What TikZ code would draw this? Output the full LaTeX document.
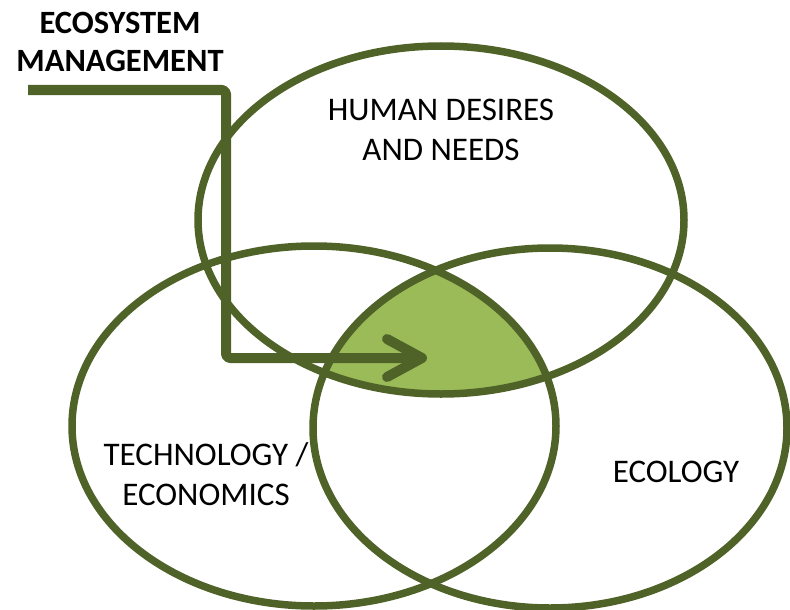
\documentclass[tikz,border=0pt]{standalone}
\usepackage{fontspec}
\setmainfont{Carlito}
\usetikzlibrary{shapes.geometric}
\definecolor{olive}{HTML}{4F6228}
\definecolor{leaf}{HTML}{9BBB59}
\begin{document}
\begin{tikzpicture}[x=1pt,y=-1pt,
  ring/.style={draw=olive,line width=7.5pt,ellipse,inner sep=0pt,outer sep=0pt},
  lbl/.style={align=center,font=\fontsize{33}{40}\selectfont,text=black},
  ttl/.style={align=center,font=\fontsize{32.5}{38}\selectfont\bfseries,text=black},
  flow/.style={draw=olive,line width=10pt,line cap=round,line join=round}]
\useasboundingbox (0,0) rectangle (790,610);
% shared region
\begin{scope}
  \clip (441,220) ellipse [x radius=243pt, y radius=174pt];
  \clip (314,426) ellipse [x radius=242pt, y radius=180pt];
  \fill[leaf] (550,428) ellipse [x radius=237pt, y radius=180pt];
\end{scope}
\node[ring,minimum width=486pt,minimum height=348pt] (human) at (441,220) {};
\node[ring,minimum width=484pt,minimum height=360pt] (tech) at (314,426) {};
\node[ring,minimum width=474pt,minimum height=360pt] (eco) at (550,428) {};
\node[lbl] (lhuman) at (441,130) {HUMAN DESIRES\\AND NEEDS};
\node[lbl] (ltech) at (206,474) {TECHNOLOGY /\\ECONOMICS};
\node[lbl] (leco) at (676,472) {ECOLOGY};
\node[ttl] (title) at (120,42) {ECOSYSTEM\\MANAGEMENT};
% arrow
\coordinate (a0) at (28,90);
\coordinate (a1) at (226,90);
\coordinate (a2) at (226,358);
\coordinate (a3) at (414,358);
\coordinate (tip) at (422,358);
\coordinate (b1) at (387,339);
\coordinate (b2) at (387,377);
\draw[flow,line cap=butt,rounded corners=4pt] (a0) -- (a1) -- (a2) -- (a3);
\draw[flow] (b1) -- (tip) -- (b2);
\end{tikzpicture}
\end{document}
